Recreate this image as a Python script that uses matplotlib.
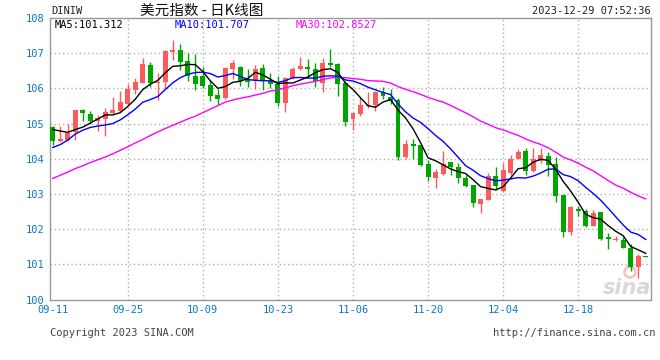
import numpy as np
import pandas as pd
import matplotlib
matplotlib.use("Agg")
import matplotlib.pyplot as plt

# daily candles, 09-11 .. 12-29
opens = [104.89, 104.51, 104.53, 104.76, 105.38, 105.28, 105.08, 105.13, 105.30, 105.36,
         105.55, 105.95, 106.16, 106.67, 106.14, 106.17, 107.02, 107.09, 106.78, 106.36,
         106.34, 106.10, 105.82, 105.72, 106.55, 106.61, 106.24, 106.20, 106.57, 106.20,
         106.12, 105.59, 106.29, 106.54, 106.61, 106.55, 106.16, 106.72, 106.70, 106.16,
         105.13, 105.28, 105.50, 105.54, 105.90, 105.76, 105.67, 104.04, 104.42, 104.38,
         103.84, 103.46, 103.58, 103.90, 103.77, 103.44, 103.24, 102.72, 102.84, 103.52,
         103.08, 103.60, 104.00, 104.22, 103.65, 103.95, 104.08, 103.84, 102.98, 101.93,
         102.57, 102.52, 102.10, 102.48, 101.77, 101.70, 101.70, 101.46, 100.93, 101.24]
highs = [104.94, 104.92, 104.98, 105.38, 105.42, 105.35, 105.23, 105.43, 105.75, 105.93,
         106.12, 106.30, 106.86, 106.76, 106.43, 107.09, 107.38, 107.27, 107.00, 106.98,
         106.60, 106.24, 105.98, 106.62, 106.81, 106.65, 106.55, 106.67, 106.70, 106.43,
         106.35, 106.32, 106.60, 106.90, 106.83, 106.71, 106.86, 107.12, 106.72, 106.20,
         105.31, 105.76, 105.90, 105.93, 106.03, 105.98, 105.74, 104.53, 104.56, 104.40,
         103.97, 103.71, 104.22, 103.92, 103.87, 103.53, 103.26, 102.87, 103.60, 103.76,
         103.87, 104.12, 104.27, 104.30, 104.30, 104.30, 104.20, 104.06, 102.98, 102.67,
         102.67, 102.57, 102.55, 102.48, 101.89, 101.81, 101.79, 101.58, 101.30, 101.24]
lows = [104.38, 104.48, 104.50, 104.53, 105.08, 104.98, 104.79, 104.64, 105.28, 105.34,
        105.53, 105.83, 106.14, 106.03, 105.66, 106.00, 106.81, 106.51, 106.22, 105.94,
        106.01, 105.65, 105.53, 105.70, 106.26, 106.08, 106.03, 105.98, 105.95, 106.00,
        105.50, 105.33, 106.27, 106.52, 106.30, 106.05, 105.89, 106.60, 105.79, 104.93,
        104.82, 105.22, 105.45, 105.37, 105.69, 105.57, 103.97, 103.98, 103.98, 103.78,
        103.37, 103.18, 103.55, 103.53, 103.31, 103.19, 102.63, 102.46, 102.82, 103.12,
        103.06, 103.53, 103.98, 103.55, 103.63, 103.87, 103.50, 102.77, 101.77, 101.82,
        102.36, 102.06, 102.08, 101.70, 101.43, 101.65, 101.45, 100.82, 100.60, 101.20]
closes = [104.51, 104.56, 104.74, 105.38, 105.30, 105.08, 105.15, 105.32, 105.38, 105.62,
          105.97, 106.17, 106.69, 106.15, 106.16, 107.05, 107.09, 106.76, 106.34, 106.13,
          106.07, 105.77, 105.70, 106.59, 106.73, 106.22, 106.19, 106.55, 106.22, 106.12,
          105.59, 106.29, 106.55, 106.64, 106.56, 106.21, 106.71, 106.67, 106.12, 105.05,
          105.29, 105.54, 105.54, 105.90, 105.79, 105.65, 104.04, 104.42, 104.36, 103.82,
          103.49, 103.62, 103.85, 103.77, 103.44, 103.22, 102.74, 102.87, 103.52, 103.22,
          103.67, 103.98, 104.20, 103.65, 104.00, 104.10, 103.82, 102.93, 101.93, 102.63,
          102.51, 102.10, 102.46, 101.72, 101.71, 101.71, 101.46, 100.93, 101.24, 101.22]

# moving averages at the left edge (history before 09-11 is not shown)
ma5_head = [104.83, 104.79, 104.75, 104.83]
ma10_head = [104.32, 104.40, 104.53, 104.70, 104.81, 104.89, 104.93, 104.96, 105.00]
ma30_head = [103.44, 103.53, 103.62, 103.72, 103.80, 103.89, 103.97, 104.05, 104.14, 104.24,
             104.34, 104.45, 104.55, 104.66, 104.76, 104.86, 104.95, 105.04, 105.13, 105.21,
             105.31, 105.41, 105.51, 105.61, 105.67, 105.72, 105.76, 105.81, 105.86]

# legend values as printed on the chart
ma_labels = ["MA5:101.312", "MA10:101.707", "MA30:102.8527"]

date_labels = ["09-11", "09-25", "10-09", "10-23", "11-06", "11-20", "12-04", "12-18"]
date_pos = [0, 10, 20, 30, 40, 50, 60, 70]
price_ticks = [100, 101, 102, 103, 104, 105, 106, 107, 108]

RED = "#ff5a5a"
GREEN = "#00a600"
BLUE_TXT = "#0a78c8"
MONO = "DejaVu Sans Mono"

W, H = 660, 360


def fx(px):
    return px / W


def fy(py):
    return 1 - py / H


close_s = pd.Series(closes)
ma5 = close_s.rolling(5).mean().to_numpy()
ma5[:len(ma5_head)] = ma5_head
ma10 = close_s.rolling(10).mean().to_numpy()
ma10[:len(ma10_head)] = ma10_head
ma30 = close_s.rolling(30).mean().to_numpy()
ma30[:len(ma30_head)] = ma30_head

o = np.array(opens)
c = np.array(closes)
x = np.arange(len(closes))
up = c >= o
colors = np.where(up, RED, GREEN)

fig = plt.figure(figsize=(W / 100, H / 100), dpi=100)
left, right, top, bottom = 50, 651, 18, 299.5
ax = fig.add_axes([fx(left), fy(bottom), fx(right - left), (bottom - top) / H])
ax.set_xlim(-0.36, 79.7)
ax.set_ylim(100, 108)

# grid
for p in price_ticks[1:-1]:
    ax.axhline(p, color="#b0b0b0", lw=1, ls=(0, (1, 2)), zorder=0)
for p in date_pos[1:]:
    ax.axvline(p, color="#b0b0b0", lw=1, ls=(0, (1, 2)), zorder=0)

# candles
ax.vlines(x, lows, highs, colors=colors, lw=1, zorder=2)
body_low = np.minimum(o, c)
body_h = np.maximum(np.abs(c - o), 0.03)
ax.bar(x, body_h, bottom=body_low, width=0.66, color=colors, lw=0, zorder=3)

# moving averages
ax.plot(x, ma30, color="#ff00ff", lw=1, zorder=4)
ax.plot(x, ma10, color="#0000ff", lw=1, zorder=4)
ax.plot(x, ma5, color="#000000", lw=1, zorder=5)

for s in ax.spines.values():
    s.set_color("#999999")
    s.set_linewidth(1)

ax.set_yticks(price_ticks)
ax.set_yticklabels([str(p) for p in price_ticks])
ax.set_xticks(date_pos)
ax.set_xticklabels(date_labels)
ax.tick_params(length=0, colors=BLUE_TXT, labelsize=7.5, pad=4)
for lab in ax.get_xticklabels() + ax.get_yticklabels():
    lab.set_family(MONO)

# watermark (logo + word)
ax.scatter([76.9], [100.78], s=60, facecolors="none", edgecolors="#f3c4c4",
           linewidths=2, zorder=1)
ax.text(76.5, 100.33, "sina", fontsize=15, fontweight="bold", style="italic",
        color="#d9d9d9", ha="center", va="center", zorder=1)

# header
fig.text(fx(51), fy(11.5), "DINIW", family=MONO, fontsize=7.5, color="#222222",
         ha="left", va="center")
fig.text(fx(140), fy(10.5), "美元指数 - 日K线图", family=["Noto Sans CJK SC", "DejaVu Sans"],
         fontsize=10.5, color="#111111", ha="left", va="center")
fig.text(fx(651), fy(11.5), "2023-12-29 07:52:36", family=MONO, fontsize=7.5,
         color="#222222", ha="right", va="center")

# moving average legend
for lx, txt, col in zip([55, 175, 296], ma_labels, ["#000000", "#0000ff", "#ff00ff"]):
    fig.text(fx(lx), fy(24.5), txt, family=MONO, fontsize=7.5, color=col,
             ha="left", va="center")

# footer
fig.text(fx(50), fy(333), "Copyright 2023 SINA.COM", family=MONO, fontsize=7.5,
         color="#444444", ha="left", va="center")
fig.text(fx(655), fy(333), "http://finance.sina.com.cn", family=MONO, fontsize=7.5,
         color="#444444", ha="right", va="center")

fig.savefig("out.png", dpi=100)
